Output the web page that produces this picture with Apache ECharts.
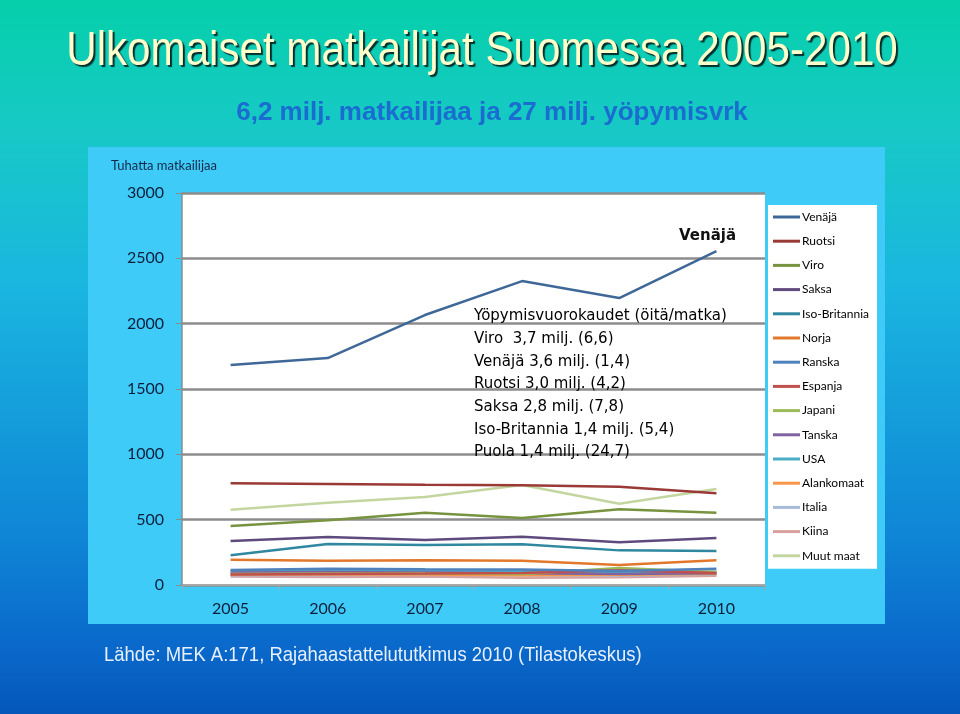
<!DOCTYPE html>
<html>
<head>
<meta charset="utf-8">
<script src="https://cdn.jsdelivr.net/npm/echarts@6/dist/echarts.min.js"></script>
<style>
  html, body { margin: 0; padding: 0; }
  body {
    width: 960px; height: 714px; overflow: hidden;
    background: linear-gradient(to bottom, #05d0aa 0%, #17c9c6 18%, #1ab6e0 40%, #0f86d6 75%, #0a6acb 90%, #0557ba 100%);
  }
  #chart { width: 960px; height: 714px; }
</style>
</head>
<body>
<div id="chart"></div>
<script>
const years = ['2005', '2006', '2007', '2008', '2009', '2010'];

const countries = ['Venäjä', 'Ruotsi', 'Viro', 'Saksa', 'Iso-Britannia', 'Norja', 'Ranska',
  'Espanja', 'Japani', 'Tanska', 'USA', 'Alankomaat', 'Italia', 'Kiina', 'Muut maat'];

// tuhatta matkailijaa
const venaja = [1683, 1737, 2066, 2326, 2196, 2555];
const ruotsi = [778, 773, 767, 763, 752, 702];
const viro = [451, 495, 553, 513, 579, 553];
const saksa = [337, 367, 344, 370, 327, 360];
const isoBritannia = [227, 314, 306, 311, 265, 260];
const norja = [194, 186, 189, 186, 153, 189];
const ranska = [115, 125, 120, 118, 108, 125];
const espanja = [80, 85, 88, 92, 112, 92];
const japani = [85, 88, 90, 85, 130, 100];
const tanska = [95, 100, 95, 90, 85, 90];
const usa = [110, 115, 110, 108, 95, 102];
const alankomaat = [80, 80, 80, 75, 78, 85];
const italia = [75, 75, 80, 74, 72, 80];
const kiina = [65, 62, 66, 56, 60, 70];
const muutMaat = [576, 630, 673, 765, 622, 734];

const seriesValues = [venaja, ruotsi, viro, saksa, isoBritannia, norja, ranska,
  espanja, japani, tanska, usa, alankomaat, italia, kiina, muutMaat];

const colors = ['#3f6898', '#9a3a37', '#77933f', '#5f4a7e', '#2f88a0', '#e2782c', '#4f81bd',
  '#c0504d', '#9bbb59', '#8064a2', '#4bacc6', '#f79646', '#a7bbd9', '#d9a09e', '#c4d6a0'];

const yTicks = { min: 0, max: 3000, interval: 500 };

const overnightLines = [
  'Yöpymisvuorokaudet (öitä/matka)',
  'Viro  3,7 milj. (6,6)',
  'Venäjä 3,6 milj. (1,4)',
  'Ruotsi 3,0 milj. (4,2)',
  'Saksa 2,8 milj. (7,8)',
  'Iso-Britannia 1,4 milj. (5,4)',
  'Puola 1,4 milj. (24,7)'
];

const chart = echarts.init(document.getElementById('chart'));

// kavennettu teksti: Liberation Sans + scaleX
function narrowText(text, x, y, font, fill, align, scaleX, extra) {
  return {
    type: 'text', x, y, scaleX, silent: true, z: 10,
    style: Object.assign({ text, font, fill, textAlign: align, textVerticalAlign: 'middle' }, extra || {})
  };
}

const option = {
  backgroundColor: 'transparent',
  animation: false,
  color: colors,
  graphic: [
    {
      type: 'rect', z: -10, silent: true,
      shape: { x: 88, y: 147, width: 797, height: 477 },
      style: { fill: '#3ecbf8' }
    },
    narrowText('Ulkomaiset matkailijat Suomessa 2005-2010', 482, 51, '49px "Liberation Sans"', '#ffffcc', 'center', 0.86,
      { textShadowColor: 'rgba(0,30,30,0.9)', textShadowOffsetX: 2, textShadowOffsetY: 2, textShadowBlur: 1 }),
    narrowText('6,2 milj. matkailijaa ja 27 milj. yöpymisvrk', 492, 113, 'bold 26px "Liberation Sans"', '#1a6cd0', 'center', 1),
    narrowText('Lähde: MEK A:171, Rajahaastattelututkimus 2010 (Tilastokeskus)', 104, 655, '21px "Liberation Sans"', '#e6f0ff', 'left', 0.88),
    {
      type: 'text', left: 111, top: 159,
      style: { text: 'Tuhatta matkailijaa', font: '13px Lato', fill: '#142848' }
    },
    {
      type: 'text', left: 679, top: 229, z: 10,
      style: { text: 'Venäjä', font: 'bold 15px "DejaVu Sans"', fill: '#111' }
    },
    {
      type: 'text', left: 474, top: 305, z: 10,
      style: {
        text: overnightLines.join('\n'),
        font: '15px "DejaVu Sans"', lineHeight: 22.7, fill: '#000'
      }
    }
  ],
  legend: {
    orient: 'vertical',
    left: 768, top: 205,
    backgroundColor: '#ffffff',
    padding: [5, 8, 6, 5],
    icon: 'rect',
    itemWidth: 27, itemHeight: 3,
    itemGap: 10.2,
    textStyle: { fontFamily: 'Lato', fontSize: 12, color: '#000', lineHeight: 14, padding: [0, 0, 0, -3] },
    data: countries
  },
  grid: {
    left: 182, top: 193, width: 583, height: 392,
    show: true, backgroundColor: '#ffffff', borderWidth: 0
  },
  xAxis: {
    type: 'category',
    data: years,
    boundaryGap: true,
    axisLine: { lineStyle: { color: '#a6a6a6', width: 1 } },
    axisTick: { show: true, length: 5, lineStyle: { color: '#a6a6a6' } },
    axisLabel: { fontFamily: 'Lato', fontSize: 16, color: '#0d1f3c', margin: 16 }
  },
  yAxis: {
    type: 'value',
    min: yTicks.min, max: yTicks.max, interval: yTicks.interval,
    axisLine: { show: true, lineStyle: { color: '#8c8c8c', width: 1.5 } },
    axisTick: { show: true, length: 6, lineStyle: { color: '#8c8c8c' } },
    axisLabel: { fontFamily: 'Lato', fontSize: 16, color: '#0d1f3c', margin: 18, formatter: v => String(v) },
    splitLine: { lineStyle: { color: '#8c8c8c', width: 2.5 } }
  },
  series: countries.map((name, i) => ({
    name,
    type: 'line',
    data: seriesValues[i],
    symbol: 'none',
    z: 20 - i,
    lineStyle: { width: 2.5, color: colors[i] },
    itemStyle: { color: colors[i] }
  }))
};

chart.setOption(option);
</script>
</body>
</html>
